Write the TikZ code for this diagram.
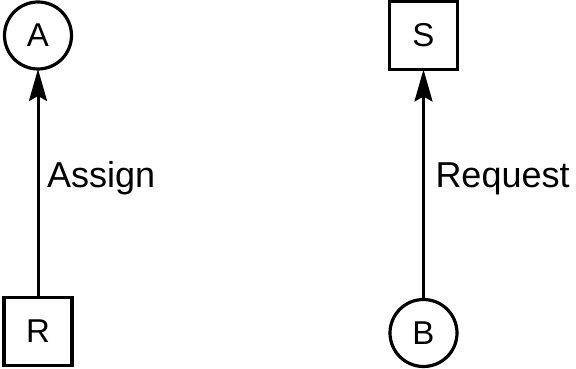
\documentclass[tikz,border=0pt]{standalone}
\usepackage{fontspec}
\setmainfont{Liberation Sans}
\usetikzlibrary{arrows.meta}
\begin{document}
\begin{tikzpicture}[x=1pt,y=1pt,
  every node/.style={inner sep=0pt, outer sep=0pt},
  proc/.style={circle, draw, line width=3.2pt, minimum size=67pt, font=\fontsize{33}{36}\selectfont},
  res/.style={rectangle, draw, line width=3.2pt, minimum size=68pt, font=\fontsize{33}{36}\selectfont},
  edgelabel/.style={anchor=base west, font=\fontsize{36}{40}\selectfont},
  link/.style={line width=3pt, -{Stealth[length=32pt, width=18pt, inset=5pt]}}]
  \useasboundingbox (0,0) rectangle (576,369);
  % left pair: resource R assigned to process A
  \node[proc] (A) at (38,333.5) {A};
  \node[res]  (R) at (38,37.5) {R};
  \draw[link] (R.north) -- (A.south);
  \node[edgelabel] (assign) at (47,181.3) {Assign};
  % right pair: process B requests resource S
  \node[res]  (S) at (423.5,333.5) {S};
  \node[proc] (B) at (423.5,36) {B};
  \draw[link] (B.north) -- (S.south);
  \node[edgelabel] (request) at (435.5,181) {Request};
\end{tikzpicture}
\end{document}
